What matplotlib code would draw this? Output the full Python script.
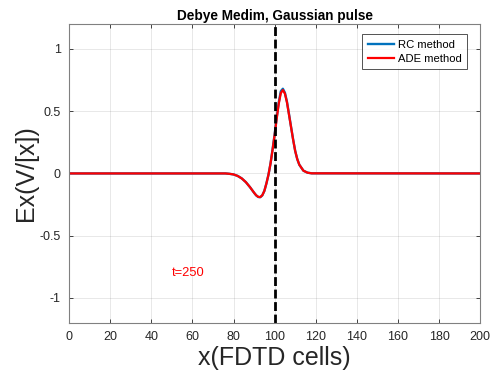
import numpy as np
import matplotlib
matplotlib.use("Agg")
import matplotlib.pyplot as plt

plt.rcParams['font.family'] = ['Liberation Sans', 'DejaVu Sans']

# Field snapshot at t=250
x_cells = [0, 76, 78, 80, 82, 84, 86, 88, 90, 91, 92, 93, 94, 95, 96, 97, 98,
           99, 100, 101, 102, 103, 104, 105, 106, 107, 108, 109, 110, 111,
           112, 114, 116, 118, 200]
ex_ade = [0, 0, -0.003, -0.008, -0.02, -0.04, -0.07, -0.11, -0.155, -0.175,
          -0.188, -0.19, -0.175, -0.14, -0.08, -0.01, 0.08, 0.19, 0.31, 0.44,
          0.56, 0.645, 0.67, 0.64, 0.57, 0.47, 0.37, 0.27, 0.18, 0.115,
          0.07, 0.022, 0.006, 0.001, 0]
ex_rc = [0, 0, -0.003, -0.008, -0.02, -0.04, -0.07, -0.11, -0.155, -0.176,
         -0.189, -0.191, -0.176, -0.14, -0.08, -0.01, 0.08, 0.195, 0.315, 0.45,
         0.57, 0.66, 0.68, 0.648, 0.575, 0.475, 0.372, 0.272, 0.18, 0.115,
         0.07, 0.022, 0.006, 0.001, 0]
x_interface = 100
t_step = 250

fig = plt.figure(figsize=(4.9, 3.75), dpi=100)
ax = fig.add_axes([0.141, 0.139, 0.839, 0.797])

axcol = (0.15, 0.15, 0.15)
ax.plot(x_cells, ex_rc, color=(0, 0.447, 0.741), lw=1.7, label='RC method')
ax.plot(x_cells, ex_ade, color='red', lw=1.6, label='ADE method')
ax.axvline(x_interface, color='black', lw=2.0, linestyle=(0, (3.2, 1.3)))

ax.text(50, -0.8, f"t={t_step}", color='red', fontsize=9.3, va='center', ha='left')

ax.set_xlim(0, 200)
ax.set_ylim(-1.2, 1.2)
ax.set_xticks(np.arange(0, 201, 20))
ax.set_yticks([-1, -0.5, 0, 0.5, 1])
ax.set_yticklabels(['-1', '-0.5', '0', '0.5', '1'])
ax.grid(True, color=(0.15, 0.15, 0.15), alpha=0.12, lw=0.6)
ax.tick_params(direction='in', top=True, right=True, length=3, width=0.6,
               colors=axcol, labelsize=9, pad=6)
for s in ax.spines.values():
    s.set_color((0.5, 0.5, 0.5))
    s.set_linewidth(0.8)

ax.set_title("Debye Medim, Gaussian pulse", fontsize=9.8, fontweight='bold', pad=3)
ax.set_xlabel("x(FDTD cells)", fontsize=18, color=axcol, labelpad=2)
ax.set_ylabel("Ex(V/[x])", fontsize=18, color=axcol, labelpad=1)

leg = ax.legend(loc='upper right', fontsize=8.1, frameon=True, fancybox=False,
                edgecolor=axcol, handlelength=2.3, borderpad=0.5,
                labelspacing=0.35, handletextpad=0.35, bbox_to_anchor=(0.982, 0.985))
leg.get_frame().set_linewidth(0.7)

fig.savefig("out.png", dpi=100)
